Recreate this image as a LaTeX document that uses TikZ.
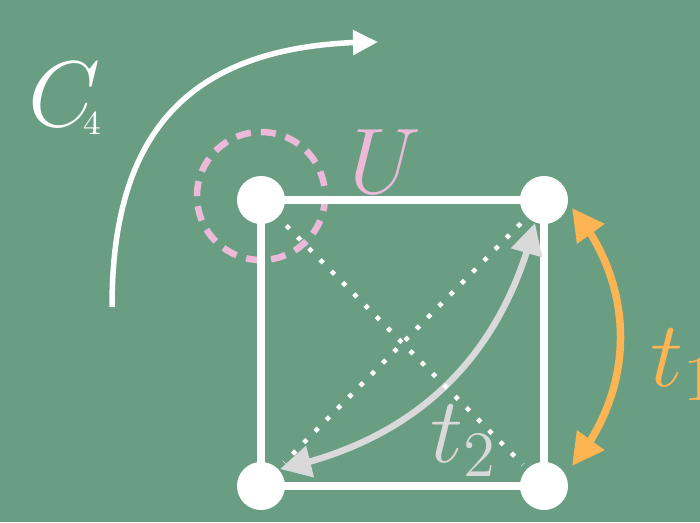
\documentclass[tikz,border=0pt]{standalone}
\usetikzlibrary{arrows.meta,bending}
\definecolor{bggreen}{RGB}{106,158,131}
\definecolor{upink}{RGB}{236,186,216}
\definecolor{torange}{RGB}{253,180,82}
\definecolor{tgray}{RGB}{217,217,217}
\begin{document}
\begin{tikzpicture}[x=1pt,y=-1pt,
  vertex/.style={circle,fill=white,inner sep=0pt,minimum size=48pt},
  edge/.style={white,line width=7.5pt},
  diag/.style={white,line width=4.5pt,line cap=butt,dash pattern=on 4.5pt off 11.5pt},
  hoptwo/.style={tgray,line width=6.5pt,{Triangle[length=31pt,width=31pt]}-{Triangle[length=31pt,width=31pt]}},
  hopone/.style={torange,line width=7.5pt,{Triangle[length=32pt,width=32pt]}-{Triangle[length=32pt,width=32pt]}},
  rotarrow/.style={white,line width=5.5pt,-{Triangle[length=25pt,width=24pt]}},
  lab/.style={font=\fontsize{20}{24}\selectfont,scale=4.5,inner sep=0pt,anchor=base west}
]
\fill[bggreen] (0,0) rectangle (700,522);
\useasboundingbox (0,0) rectangle (700,522);

% vertex positions
\coordinate (a) at (261,200);
\coordinate (b) at (544,200);
\coordinate (c) at (261,486);
\coordinate (d) at (544,486);

% U region
\draw[upink,line width=6.5pt,dash pattern=on 15pt off 10.13pt] (261,196) circle[radius=64];

% square
\draw[edge] (a) -- (b) -- (d) -- (c) -- cycle;

% t2 hopping
\draw[hoptwo] ([shift={(19,-17)}]c) to[bend right=32] ([shift={(-9,23)}]b);

% diagonals
\draw[diag,shorten <=36pt,shorten >=30pt] (a) -- (d);
\draw[diag,shorten <=33pt,shorten >=33pt] (b) -- (c);

% t1 hopping
\draw[hopone] ([shift={(28,8)}]b) to[bend left=40] ([shift={(28,-20)}]d);

% rotation arrow
\coordinate (rs) at (112,307);
\coordinate (re) at (378,42);
\draw[rotarrow] (rs) .. controls (112,125) and (195,42) .. (re);

% vertices
\node[vertex] (va) at (a) {};
\node[vertex] (vb) at (b) {};
\node[vertex] (vc) at (c) {};
\node[vertex] (vd) at (d) {};

% labels
\node[lab,text=white] (lc) at (28,126) {$C$\kern-4pt\raisebox{-1.8pt}{\fontsize{7.5}{9}\selectfont 4}};
\node[lab,text=upink] (lu) at (349,193) {$U$};
\node[lab,text=torange] (lt1) at (650,386) {$t_1$};
\node[lab,text=tgray] (lt2) at (430,462) {$t_2$};
\end{tikzpicture}
\end{document}
